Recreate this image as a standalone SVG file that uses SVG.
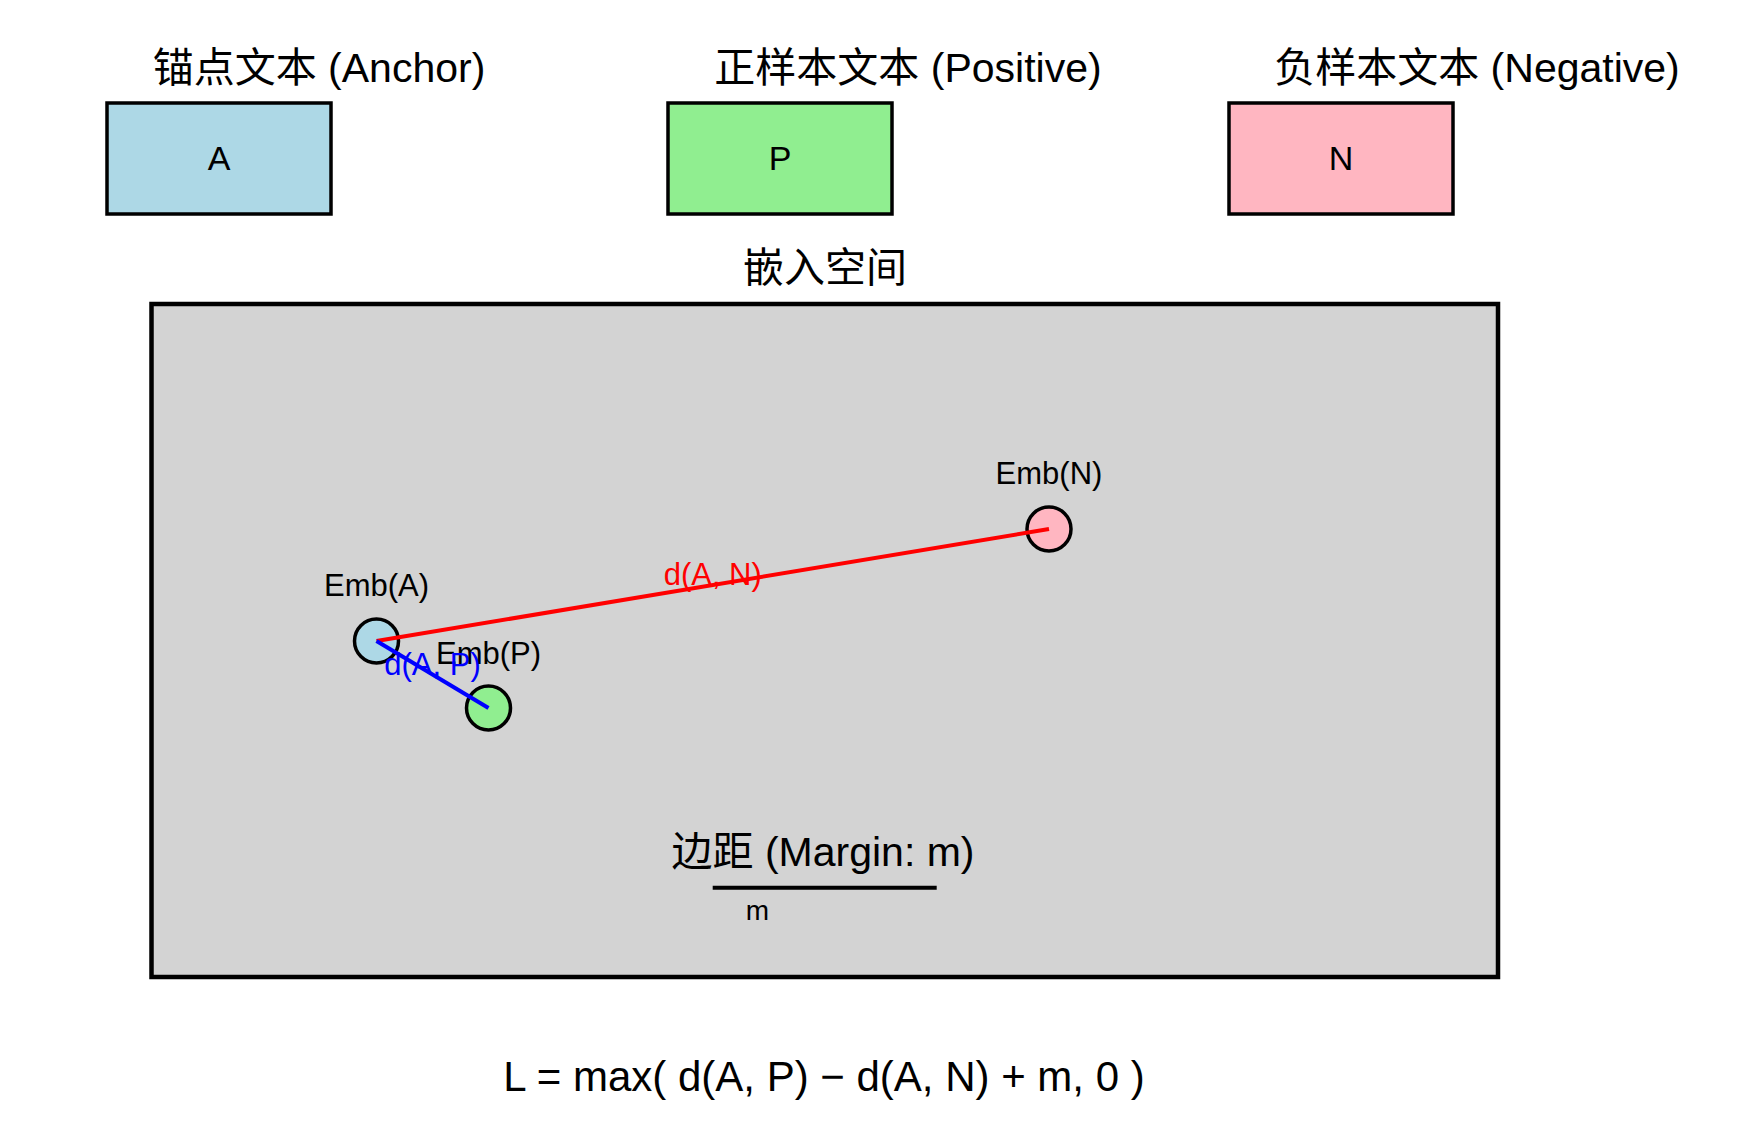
<svg xmlns="http://www.w3.org/2000/svg" width="1752" height="1124" viewBox="0 0 1752 1124">
  <style>
    text { font-family: "Liberation Sans", "Noto Sans CJK SC", sans-serif; fill: #000; }
    .title { font-size: 41px; text-anchor: middle; }
    .boxlabel { font-size: 34px; text-anchor: middle; }
    .emb { font-size: 31px; text-anchor: middle; }
    .box { stroke: #000; stroke-width: 3.5; }
    .pt { stroke: #000; stroke-width: 3.5; }
    .dist { stroke-width: 4; fill: none; }
    .dlabel { font-size: 31px; text-anchor: middle; }
  </style>
  <rect width="1752" height="1124" fill="#ffffff"/>

  <g id="anchor-text">
    <text class="title" x="319" y="82">锚点文本 (Anchor)</text>
    <rect class="box" x="107" y="103" width="224" height="111" fill="#ADD8E6"/>
    <text class="boxlabel" x="219" y="170">A</text>
  </g>
  <g id="positive-text">
    <text class="title" x="908" y="82">正样本文本 (Positive)</text>
    <rect class="box" x="668" y="103" width="224" height="111" fill="#90EE90"/>
    <text class="boxlabel" x="780" y="170">P</text>
  </g>
  <g id="negative-text">
    <text class="title" x="1477" y="82">负样本文本 (Negative)</text>
    <rect class="box" x="1229" y="103" width="224" height="111" fill="#FFB6C1"/>
    <text class="boxlabel" x="1341" y="170">N</text>
  </g>

  <g id="embedding-space">
    <text class="title" x="825" y="282">嵌入空间</text>
    <rect x="151.5" y="304" width="1346.5" height="673" fill="#D3D3D3" stroke="#000" stroke-width="4.5"/>
  </g>

  <g id="emb-a">
    <circle class="pt" cx="376.5" cy="641" r="22" fill="#ADD8E6"/>
    <text class="emb" x="376.5" y="596">Emb(A)</text>
  </g>
  <g id="emb-p">
    <circle class="pt" cx="488.5" cy="708" r="22" fill="#90EE90"/>
    <text class="emb" x="488.5" y="664">Emb(P)</text>
  </g>
  <g id="emb-n">
    <circle class="pt" cx="1049" cy="529" r="22" fill="#FFB6C1"/>
    <text class="emb" x="1049" y="484">Emb(N)</text>
  </g>

  <g id="connectors">
    <line class="dist" x1="376.5" y1="641" x2="1049" y2="529" stroke="#FF0000"/>
    <line class="dist" x1="376.5" y1="641" x2="488.5" y2="708" stroke="#0000FF"/>
    <text class="dlabel" x="712.75" y="585" style="fill:#FF0000">d(A, N)</text>
    <text class="dlabel" x="432.5" y="674.5" style="fill:#0000FF">d(A, P)</text>
  </g>

  <g id="margin">
    <text x="823" y="866" font-size="41" text-anchor="middle">边距 (Margin: m)</text>
    <line x1="712.7" y1="887.7" x2="936.7" y2="887.7" stroke="#000" stroke-width="4"/>
    <text x="757.5" y="920" font-size="28" text-anchor="middle">m</text>
  </g>

  <g id="formula">
    <text x="824" y="1091" font-size="42" text-anchor="middle">L = max( d(A, P) − d(A, N) + m, 0 )</text>
  </g>
</svg>
